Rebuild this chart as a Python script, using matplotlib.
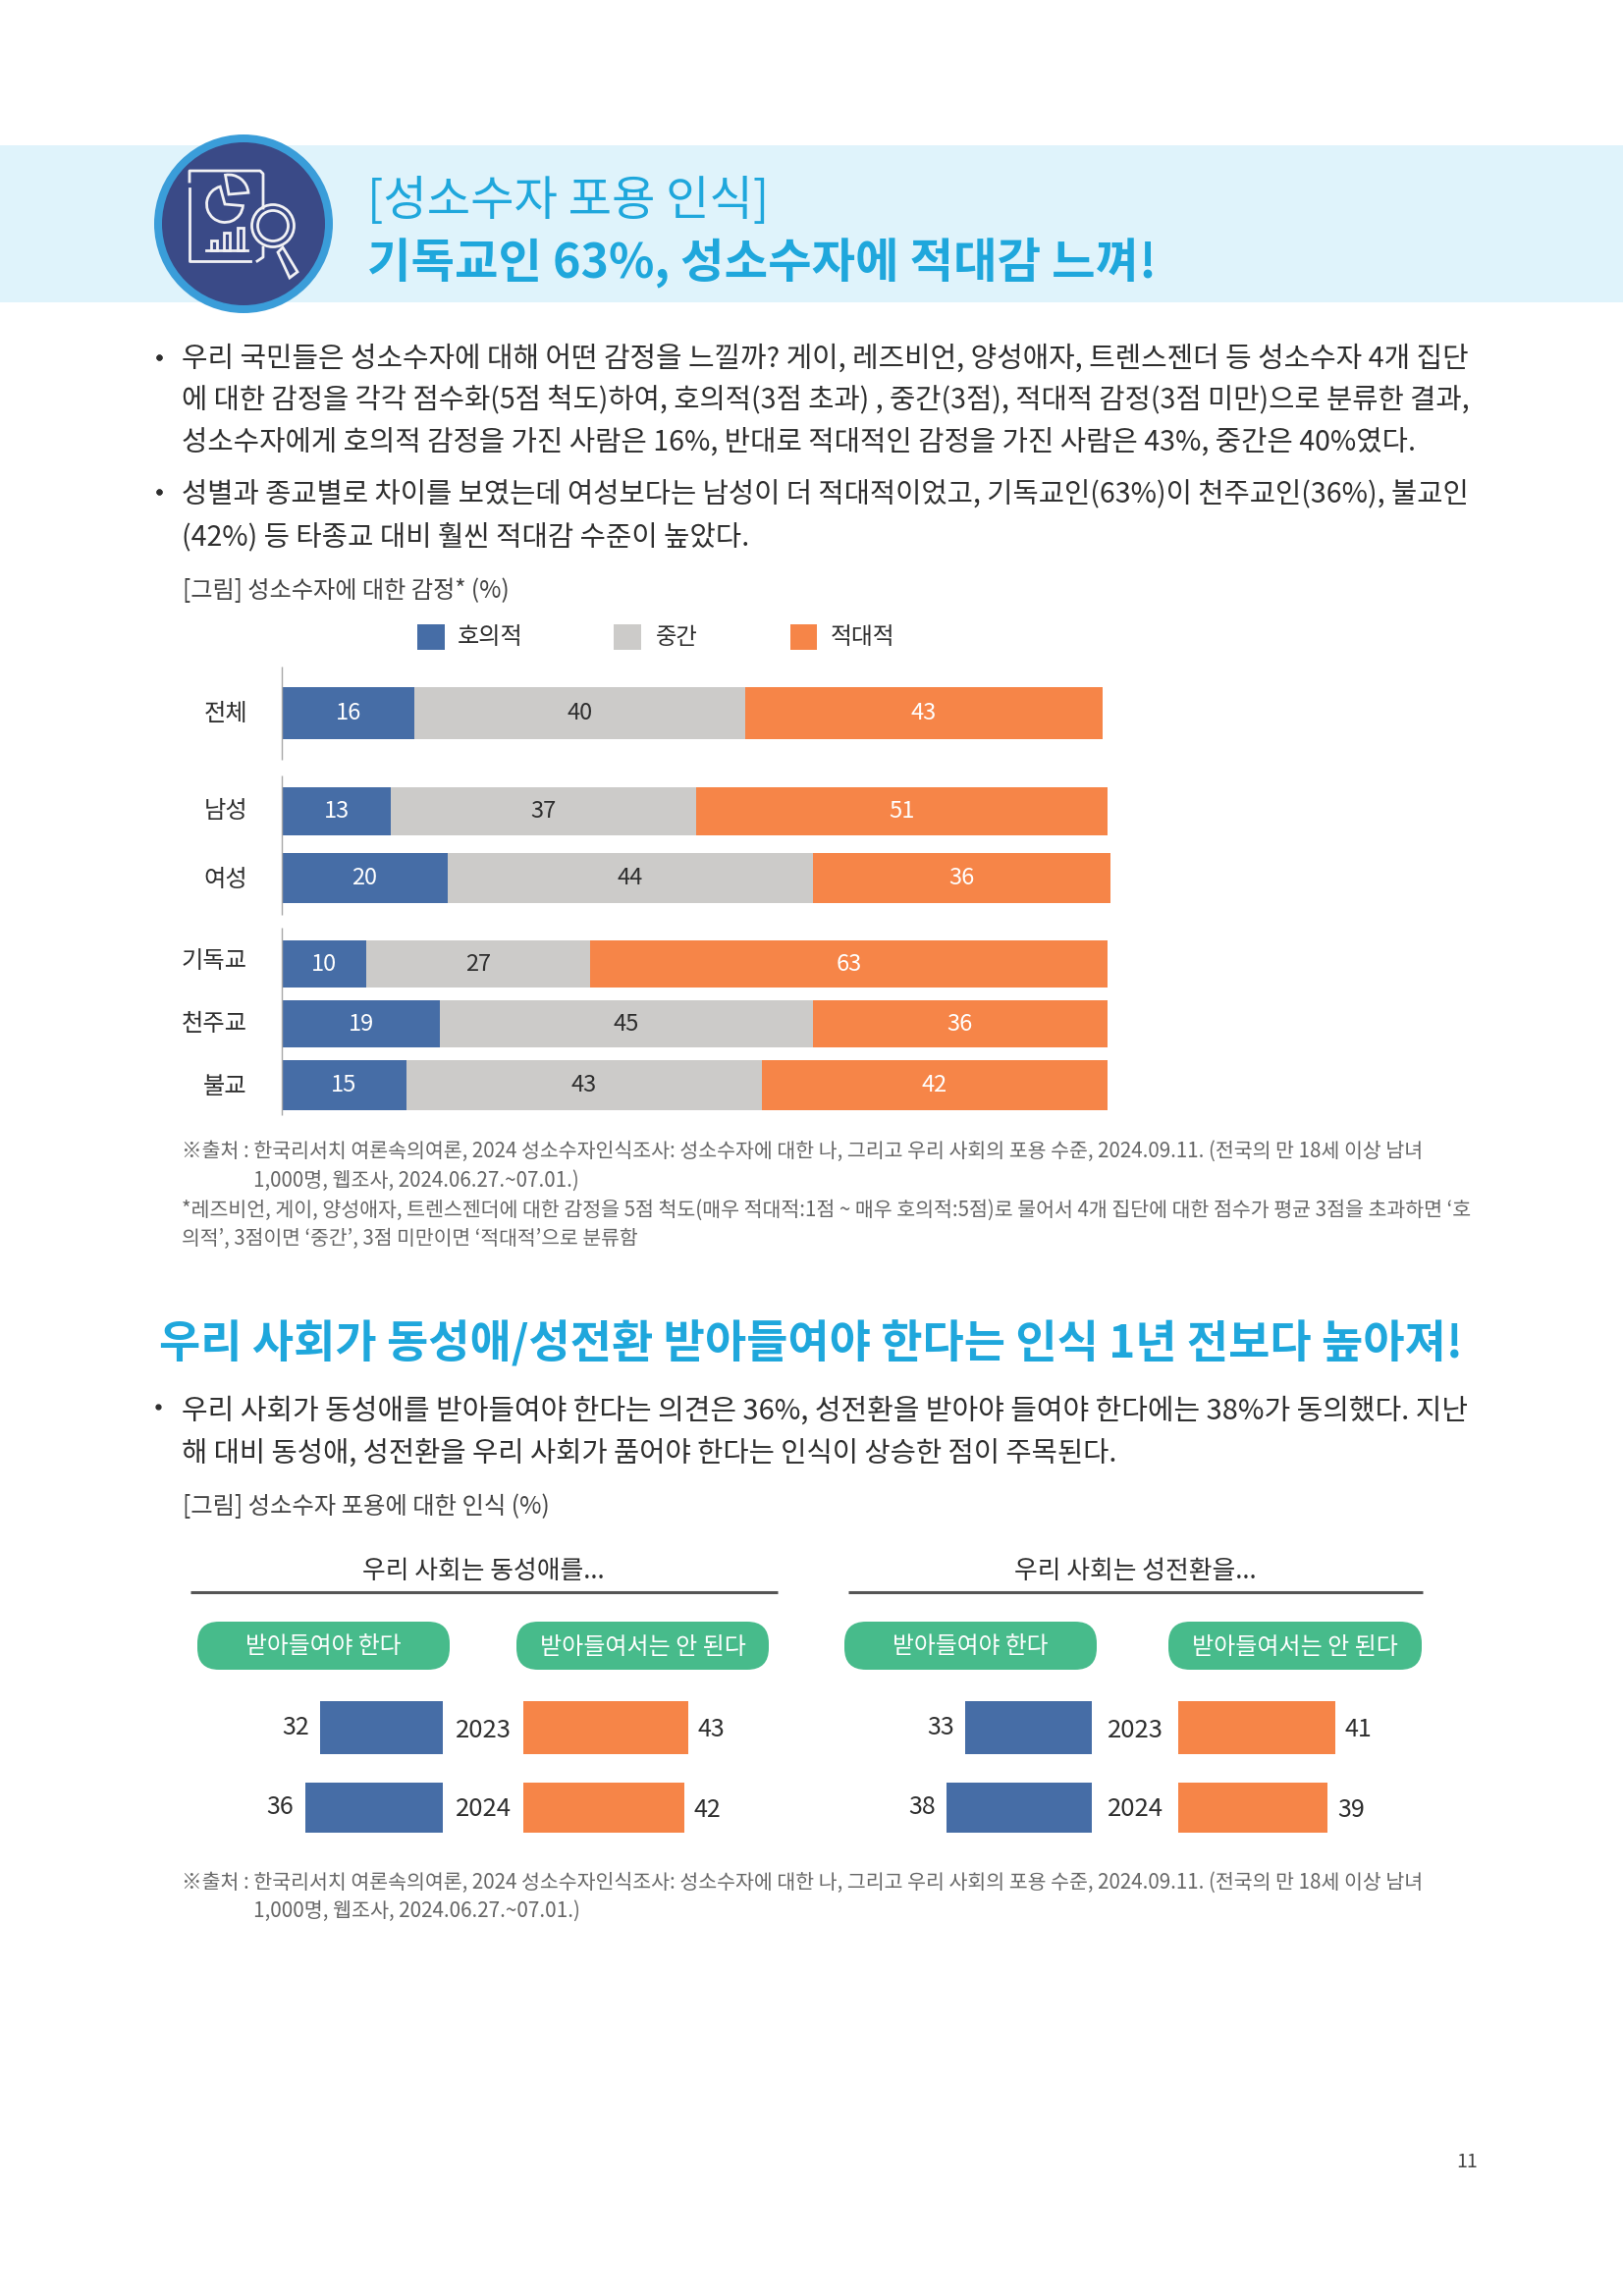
import matplotlib
matplotlib.use('Agg')
from matplotlib import pyplot as plt
from matplotlib.patches import Rectangle, Circle, Wedge, FancyBboxPatch, Polygon

plt.rcParams['font.family'] = ['Noto Sans CJK KR', 'DejaVu Sans']

W, H = 1653, 2339

#########################################
### Data
#########################################
cats = ['전체', '남성', '여성', '기독교', '천주교', '불교']
# bar lengths as measured on the page, labels as printed
favorable = [16.0, 13.2, 20.0, 10.2, 19.1, 15.0]
neutral = [39.9, 36.8, 44.1, 27.0, 45.0, 42.9]
hostile = [43.1, 49.6, 35.9, 62.4, 35.5, 41.7]
favorable_lab = ['16', '13', '20', '10', '19', '15']
neutral_lab = ['40', '37', '44', '27', '45', '43']
hostile_lab = ['43', '51', '36', '63', '36', '42']
legend_names = ['호의적', '중간', '적대적']

years = ['2023', '2024']
homo_yes = [32, 36]
homo_no = [43, 42]
trans_yes = [33, 38]
trans_no = [41, 39]

body1 = ['우리 국민들은 성소수자에 대해 어떤 감정을 느낄까? 게이, 레즈비언, 양성애자, 트렌스젠더 등 성소수자 4개 집단',
         '에 대한 감정을 각각 점수화(5점 척도)하여, 호의적(3점 초과) , 중간(3점), 적대적 감정(3점 미만)으로 분류한 결과,',
         '성소수자에게 호의적 감정을 가진 사람은 16%, 반대로 적대적인 감정을 가진 사람은 43%, 중간은 40%였다.',
         '성별과 종교별로 차이를 보였는데 여성보다는 남성이 더 적대적이었고, 기독교인(63%)이 천주교인(36%), 불교인',
         '(42%) 등 타종교 대비 훨씬 적대감 수준이 높았다.']
body2 = ['우리 사회가 동성애를 받아들여야 한다는 의견은 36%, 성전환을 받아야 들여야 한다에는 38%가 동의했다. 지난',
         '해 대비 동성애, 성전환을 우리 사회가 품어야 한다는 인식이 상승한 점이 주목된다.']
src1 = '※출처 : 한국리서치 여론속의여론, 2024 성소수자인식조사: 성소수자에 대한 나, 그리고 우리 사회의 포용 수준, 2024.09.11. (전국의 만 18세 이상 남녀'
src2 = '1,000명, 웹조사, 2024.06.27.~07.01.)'
note1 = '*레즈비언, 게이, 양성애자, 트렌스젠더에 대한 감정을 5점 척도(매우 적대적:1점 ~ 매우 호의적:5점)로 물어서 4개 집단에 대한 점수가 평균 3점을 초과하면 ‘호'
note2 = '의적’, 3점이면 ‘중간’, 3점 미만이면 ‘적대적’으로 분류함'

# colours
BLUE = '#466DA6'
GREY = '#CCCBC9'
ORANGE = '#F68548'
GREEN = '#47BB8B'
SKY = '#1FA7DC'
BAND = '#DFF3FB'
NAVY = '#3A4A87'
RING = '#3A9DD9'
DARK = '#2E2E2E'
SRC = '#666666'
ICON = '#F1F1F4'

#########################################
### Page
#########################################
fig = plt.figure(figsize=(W/100, H/100), dpi=100, facecolor='white')
page = fig.add_axes([0, 0, 1, 1])
page.set_xlim(0, W)
page.set_ylim(H, 0)
page.axis('off')
renderer = fig.canvas.get_renderer()


def put(x, y, s, size, width=None, color=DARK, ha='left', weight='normal', ax=page):
    # width in px: font size gets scaled so the line spans what it spans in the original
    t = ax.text(x, y, s, fontsize=size, color=color, ha=ha, va='center', fontweight=weight)
    if width is not None:
        w = t.get_window_extent(renderer).width
        t.set_fontsize(size*width/w)
    return t


def sub_axes(x0, y0, x1, y1):
    ax = fig.add_axes([x0/W, 1-y1/H, (x1-x0)/W, (y1-y0)/H])
    ax.patch.set_alpha(0)
    ax.axis('off')
    ax.set_ylim(y1, y0)
    return ax


# header band and icon
page.add_patch(Rectangle((0, 148), W, 160, fc=BAND, ec='none'))
page.add_patch(Circle((248, 228), 91, fc=RING, ec='none'))
page.add_patch(Circle((248, 228), 83, fc=NAVY, ec='none'))
ic = dict(fc='none', ec=ICON, lw=2)
page.plot([193, 193, 265, 268, 268], [185, 174, 174, 177, 212], color=ICON, lw=2)
page.plot([193, 193, 255], [192, 266, 266], color=ICON, lw=2)
page.plot([262, 268, 268], [266, 262, 252], color=ICON, lw=2)
# y axis runs downwards here, so the angles are mirrored
page.add_patch(Wedge((229, 208), 18.5, 5, 255, **ic))
page.add_patch(Wedge((233, 198), 20, -100, -5, **ic))
page.plot([210, 252], [255, 255], color=ICON, lw=2)
for bx, bh in zip([218, 231, 245], [10, 18, 23]):
    page.add_patch(Rectangle((bx-3, 255-bh), 6, bh, **ic))
page.add_patch(Circle((278, 230), 21.5, fc=NAVY, ec=ICON, lw=2))
page.add_patch(Circle((278, 230), 15.5, **ic))
page.add_patch(Polygon([(283, 257), (288, 252), (303, 277), (295, 283)], closed=True, fc=NAVY, ec=ICON, lw=2))

put(374, 205, '[성소수자 포용 인식]', 30, width=410, color=SKY)
put(374, 268, '기독교인 63%, 성소수자에 적대감 느껴!', 30, width=804, color=SKY, weight='bold')

# first paragraph block
ys = [366, 407, 451, 504, 547]
ws = [1310, 1310, 1255, 1310, 577]
for s, y, w in zip(body1, ys, ws):
    put(185, y, s, 20, width=w)
page.plot([162, 162], [364, 364], 'o', color=DARK, ms=3.5)
page.plot([162, 162], [501, 501], 'o', color=DARK, ms=3.5)
put(186, 602, '[그림] 성소수자에 대한 감정* (%)', 18, width=333, color='#444444')

#########################################
### Stacked bars
#########################################
ax = sub_axes(287, 620, 1240, 1145)
ax.set_xlim(0, (1240-287)/8.44)
ys_bar = [726.5, 826.5, 894.5, 982, 1043, 1105.5]
hs_bar = [53, 49, 51, 48, 48, 51]
lefts = [0]*len(cats)
for vals, labs, col, tcol in [(favorable, favorable_lab, BLUE, 'white'),
                              (neutral, neutral_lab, GREY, DARK),
                              (hostile, hostile_lab, ORANGE, 'white')]:
    bars = ax.barh(ys_bar, vals, height=hs_bar, left=lefts, color=col, linewidth=0)
    ax.bar_label(bars, labels=labs, label_type='center', color=tcol, fontsize=17)
    lefts = [a+b for a, b in zip(lefts, vals)]
ax.vlines([0, 0, 0], [679, 790, 945], [774, 932, 1136], color='#A8A8A8', lw=1, clip_on=False)

label_ys = [727, 826, 896, 979, 1043, 1107]
for c, y in zip(cats, label_ys):
    put(252, y, c, 16, width=22.4*len(c), ha='right')

# legend
for nm, x0, x1, tx, tw, col in zip(legend_names, [425, 625, 805], [453, 653, 832],
                                   [466, 668, 846], [67, 43, 66], [BLUE, GREY, ORANGE]):
    page.add_patch(Rectangle((x0, 636), x1-x0, 26, fc=col, ec='none'))
    put(tx, 649, nm, 16, width=tw)

# source notes
put(185, 1173, src1, 15, width=1262, color=SRC)
put(258, 1203, src2, 15, width=332, color=SRC)
put(185, 1233, note1, 15, width=1312, color=SRC)
put(185, 1262, note2, 15, width=465, color=SRC)

#########################################
### Second section
#########################################
put(162, 1370, '우리 사회가 동성애/성전환 받아들여야 한다는 인식 1년 전보다 높아져!', 30, width=1330, color=SKY, weight='bold')
put(185, 1438, body2[0], 20, width=1308)
put(185, 1481, body2[1], 20, width=952)
page.plot([161], [1433], 'o', color=DARK, ms=3.5)
put(186, 1535, '[그림] 성소수자 포용에 대한 인식 (%)', 18, width=374, color='#444444')

ys_small = [1760, 1841.5]
hs_small = [54, 51]


def pair(title, tx, line, pill_l, pill_r, edge_l, edge_r, yes, no):
    put(tx, 1601, title, 18, width=247, ha='center')
    page.plot(line, [1622, 1622], color='#555555', lw=2.2, solid_capstyle='butt')
    for (p0, p1), s, w in [(pill_l, '받아들여야 한다', 159), (pill_r, '받아들여서는 안 된다', 210)]:
        page.add_patch(FancyBboxPatch((p0+22, 1652+22), p1-p0-44, 49-44,
                                      boxstyle='round,pad=22', fc=GREEN, ec='none'))
        put((p0+p1)/2, 1678, s, 17, width=w, color='white', ha='center')
    # left side runs leftwards from the centre
    al = sub_axes(edge_l-160, 1720, edge_l, 1880)
    al.set_xlim(160/3.9, 0)
    bl = al.barh(ys_small, yes, height=hs_small, color=BLUE, linewidth=0)
    al.bar_label(bl, padding=8, fontsize=18, color=DARK)
    ar = sub_axes(edge_r, 1720, edge_r+200, 1880)
    ar.set_xlim(0, 200/3.9)
    br = ar.barh(ys_small, no, height=hs_small, color=ORANGE, linewidth=0)
    for t in ar.bar_label(br, padding=7, fontsize=18, color=DARK):
        t.xyann = (t.xyann[0], -1.5)
    for yr, y in zip(years, [1763, 1843]):
        put(tx, y, yr, 18.5, ha='center')


pair('우리 사회는 동성애를...', 492, [194, 792], (201, 458), (526, 783), 451, 533, homo_yes, homo_no)
pair('우리 사회는 성전환을...', 1156, [864, 1449], (860, 1117), (1190, 1448), 1112, 1200, trans_yes, trans_no)

put(185, 1918, src1, 15, width=1262, color=SRC)
put(258, 1947, src2, 15, width=333, color=SRC)

put(1494, 2202, '11', 14, ha='center', color='#444444')

fig.savefig('out.png', dpi=100, facecolor='white')
